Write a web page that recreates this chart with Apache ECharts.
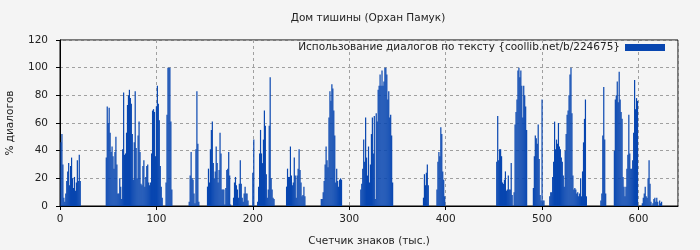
<!DOCTYPE html>
<html>
<head>
<meta charset="utf-8">
<script src="https://cdn.jsdelivr.net/npm/echarts@6/dist/echarts.min.js"></script>
<style>
html,body{margin:0;padding:0;background:#f4f4f4;}
#chart{width:700px;height:250px;}
</style>
</head>
<body>
<div id="chart"></div>
<script>
const titleText = 'Дом тишины (Орхан Памук)';
const seriesName = 'Использование диалогов по тексту {coollib.net/b/224675}';
const xAxisName = 'Счетчик знаков (тыс.)';
const yAxisName = '% диалогов';
const xTicks = [0, 100, 200, 300, 400, 500, 600];
const yTicks = [0, 20, 40, 60, 80, 100, 120];

// start position (thousand chars) of each run of bars
const blockStart = [1, 48, 110, 134, 153, 180, 200, 235, 271, 312, 377, 391, 453, 471, 491, 508, 561, 575, 604];
// % of dialogues, one value per thousand chars, for each run
const block01 = [46,52,30,6,3,9,18,25,31,15,29,35,20,13,21,11,17,33,18,37,18];
const block02 = [35,72,60,71,53,39,43,36,27,39,50,30,9,9,20,14,5,41,82,37,38,53,73,80,84,78,74,52,19,46,83,42,20,51,61,39,16,15,29,33,14,21,29,30,17,15,17,38,69,70,68,36,72,87,74,62,29,14,6];
const block03 = [17,66,100,100,100,61,12];
const block04 = [3,22,39,20,19,9,2,41,83,45,3];
const block05 = [14,27,17,41,55,61,31,20,25,43,31,17,26,53,38,12,12,12,1,13,26,27,39,22,1];
const block06 = [6,17,21,15,12,6,16,33,16,6,3,9,14,9,9,4];
const block07 = [24,48,0,0,0,3,14,38,55,38,31,48,69,58,23,6,12,58,93,20,12,6,5];
const block08 = [14,27,21,21,43,22,15,17,35,22,6,22,27,41,26,17,7,8,14,7];
const block09 = [5,5,10,18,30,43,33,28,64,83,76,88,85,69,51,17,27,18,14,19,20,19];
const block10 = [12,16,27,48,32,64,35,22,43,17,30,52,64,38,65,5,67,61,84,87,95,87,98,87,90,100,100,95,77,83,64,66,51,17];
const block11 = [6,23,15,24,30,15];
const block12 = [12,32,39,36,57,52,25,19,7];
const block13 = [32,65,33,41,41,36,17,16,19,25,11,12,22,12,12,31,8];
const block14 = [10,59,68,77,98,100,93,98,87,64,87,80,72,55];
const block15 = [13,36,51,49,45,59,34,8,4,77,4,4];
const block16 = [7,10,10,21,32,61,41,48,45,60,43,41,35,32,22,14,40,52,66,69,80,95,100,67,22,12,13,12,9,10,7,9,20,7,25,46,63,77,7];
const block17 = [4,9,51,86,48,9];
const block18 = [40,77,80,90,75,97,77,68,63,21,14,7,14,27,37,66,38,27,27,33,53,91,70,78,76];
const block19 = [2,6,9,14,7,6,20,33,16,3,0,2,5,6,3,6,3,0,4,2,3];
const blocks = [block01,block02,block03,block04,block05,block06,block07,block08,block09,block10,block11,block12,block13,block14,block15,block16,block17,block18,block19];

const data = [];
blocks.forEach((vals, b) => {
  vals.forEach((v, i) => { data.push([blockStart[b] + i, v]); });
});

const font = 'DejaVu Sans';
const fs = 10.5;
const chart = echarts.init(document.getElementById('chart'), null, {renderer: 'canvas'});
chart.setOption({
  backgroundColor: '#f4f4f4',
  animation: false,
  title: {
    text: titleText,
    left: 368, top: 13, textAlign: 'center', padding: 0,
    textStyle: {fontFamily: font, fontSize: fs, fontWeight: 'normal', color: '#222'}
  },
  legend: {
    right: 35, top: 42, padding: 0,
    align: 'right',
    itemWidth: 40, itemHeight: 7, icon: 'rect',
    textStyle: {fontFamily: font, fontSize: fs, color: '#222'},
    data: [seriesName]
  },
  grid: {
    left: 60, right: 22, top: 40, bottom: 44,
    outerBoundsMode: 'none', containLabel: false,
    show: true, borderColor: '#000', borderWidth: 1, backgroundColor: 'transparent'
  },
  xAxis: {
    type: 'value', min: 0, max: 641, interval: 100,
    name: xAxisName, nameLocation: 'middle', nameGap: 30,
    nameTextStyle: {fontFamily: font, fontSize: fs, color: '#222'},
    axisLine: {show: true, lineStyle: {color: '#000'}},
    axisTick: {show: true, length: 4, lineStyle: {color: '#000'}},
    axisLabel: {
      fontFamily: font, fontSize: fs, color: '#222', margin: 8,
      showMaxLabel: false,
      formatter: v => (xTicks.indexOf(v) >= 0 ? String(v) : '')
    },
    splitLine: {show: true, lineStyle: {color: '#a0a0a0', type: [3, 3], width: 1}}
  },
  yAxis: {
    type: 'value', min: 0, max: 120, interval: 20,
    name: yAxisName, nameLocation: 'middle', nameGap: 44,
    nameTextStyle: {fontFamily: font, fontSize: fs, color: '#222'},
    axisLine: {show: true, lineStyle: {color: '#000'}},
    axisTick: {show: true, length: 4, lineStyle: {color: '#000'}},
    axisLabel: {
      fontFamily: font, fontSize: fs, color: '#222', margin: 12,
      formatter: v => (yTicks.indexOf(v) >= 0 ? String(v) : '')
    },
    splitLine: {show: true, lineStyle: {color: '#a0a0a0', type: [3, 3], width: 1}}
  },
  series: [{
    name: seriesName,
    type: 'bar',
    data: data,
    barWidth: 1.2,
    itemStyle: {color: '#0846b0'},
    emphasis: {disabled: true}
  }]
});
</script>
</body>
</html>
